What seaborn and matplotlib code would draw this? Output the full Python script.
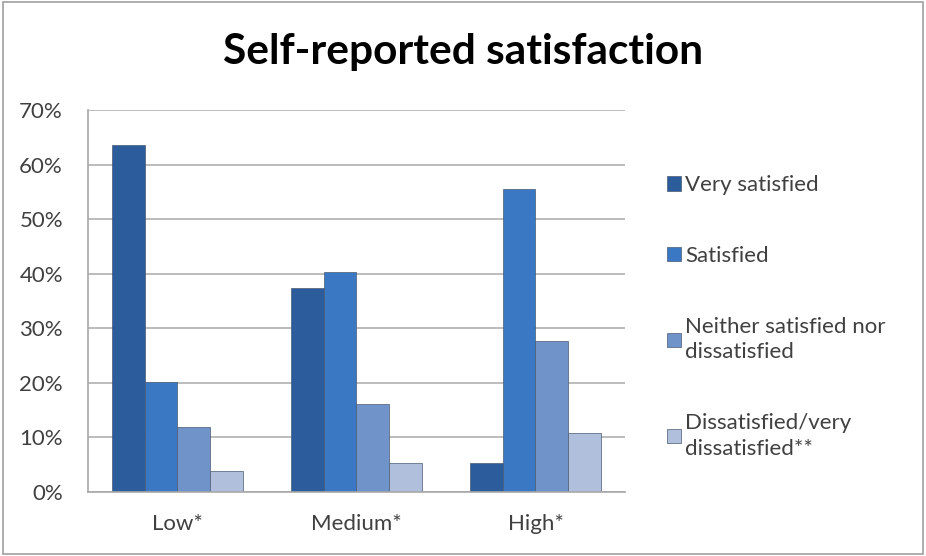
import pandas as pd
import seaborn as sns
from matplotlib import pyplot as plt
from matplotlib.patches import Rectangle
from matplotlib.ticker import PercentFormatter

groups = ["Low*", "Medium*", "High*"]
levels = ["Very satisfied", "Satisfied",
          "Neither satisfied nor\ndissatisfied", "Dissatisfied/very\ndissatisfied**"]
very_satisfied = [63.6, 37.4, 5.4]
satisfied = [20.2, 40.4, 55.5]
neither = [12.0, 16.1, 27.7]
dissatisfied = [3.9, 5.4, 10.9]
colors = ["#2c5c9c", "#3b78c3", "#7093c9", "#b0c0dc"]

df = pd.DataFrame({"group": groups * 4,
                   "level": [l for l in levels for _ in groups],
                   "value": very_satisfied + satisfied + neither + dissatisfied})
df["value"] = df["value"] / 100

sns.set_style("white")
plt.rcParams["font.family"] = ["Lato", "DejaVu Sans"]

fig = plt.figure(figsize=(9.26, 5.56), dpi=100)
ax = fig.add_axes([0.095, 0.1151, 0.5799, 0.6871])

sns.barplot(data=df, x="group", y="value", hue="level", hue_order=levels,
            palette=colors, saturation=1, width=0.73, ax=ax,
            edgecolor="#4a5a72", linewidth=0.5, legend=True)

ax.set_ylim(0, 0.7)
ax.set_xlim(-0.5, 2.5)
ax.set_yticks([i / 10 for i in range(8)])
ax.yaxis.set_major_formatter(PercentFormatter(1.0, decimals=0))
ax.yaxis.grid(True, color="#b0b0b0", linewidth=1.2)
ax.set_axisbelow(True)
ax.set_xlabel("")
ax.set_ylabel("")
for side in ["top", "right"]:
    ax.spines[side].set_visible(False)
for side in ["left", "bottom"]:
    ax.spines[side].set_color("#a8a8a8")
    ax.spines[side].set_linewidth(1.2)
ax.tick_params(axis="y", length=0, pad=18, labelsize=16, labelcolor="#404040")
ax.tick_params(axis="x", length=0, pad=16, labelsize=16, labelcolor="#404040")

handles, labels = ax.get_legend_handles_labels()
leg = ax.legend(handles, labels, loc="center left", bbox_to_anchor=(0.699, 0.43),
                bbox_transform=fig.transFigure, frameon=False, fontsize=16,
                labelspacing=2.28, handlelength=0.6, handleheight=0.6, handletextpad=0.2,
                labelcolor="#404040")
for t in leg.get_texts():
    t.set_linespacing(1.35)

fig.suptitle("Self-reported satisfaction", x=0.5, y=0.94, fontsize=30.5,
             fontweight="bold", color="black")

fig.patches.append(Rectangle((0.003, 0.003), 0.994, 0.993, transform=fig.transFigure,
                             fill=False, edgecolor="#a0a0a0", linewidth=1.2))

plt.savefig("out.png", dpi=100)
